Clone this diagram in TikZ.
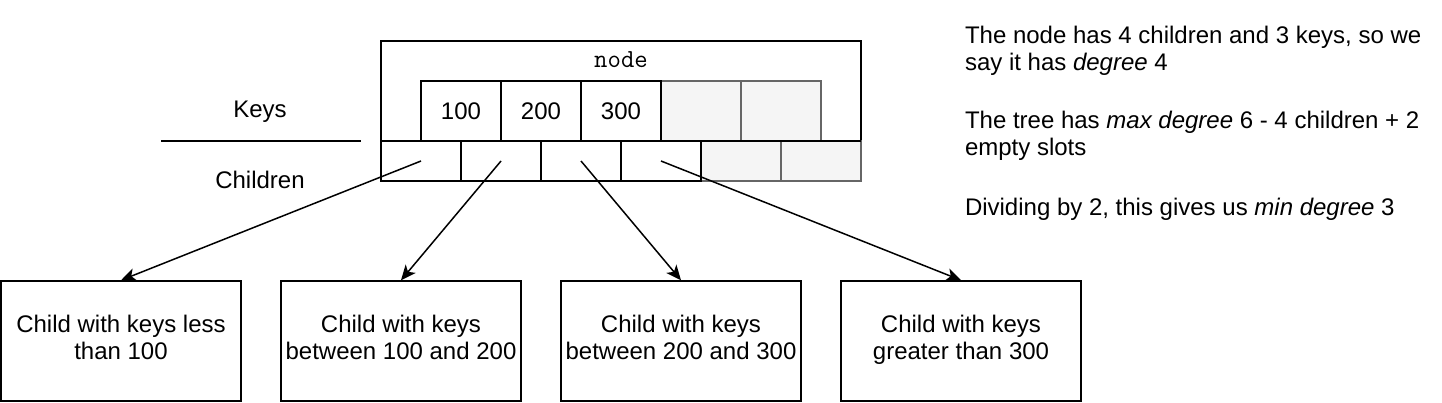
\documentclass[tikz,border=0pt]{standalone}
\usepackage{fontspec}
\setmainfont{Liberation Sans}
\usetikzlibrary{arrows.meta}
\definecolor{emptyfill}{HTML}{F5F5F5}
\definecolor{emptyline}{HTML}{666666}
\begin{document}
\begin{tikzpicture}[x=1pt,y=-1pt,
  font=\fontsize{24}{27}\selectfont,
  cellbox/.style={draw=black, fill=white, line width=1.5pt, inner sep=0pt, outer sep=0pt},
  emptybox/.style={draw=emptyline, fill=emptyfill, line width=1.5pt, inner sep=0pt, outer sep=0pt},
  keycell/.style={minimum width=80pt, minimum height=60pt},
  childcell/.style={minimum width=80pt, minimum height=40pt},
  childbox/.style={draw=black, line width=1.5pt, minimum width=240pt, minimum height=120pt, align=center, inner sep=0pt},
  plain/.style={inner sep=0pt, outer sep=0pt},
  arr/.style={line width=1.5pt, -{Stealth[length=15pt, width=13pt, inset=4pt]}}]
\useasboundingbox (0,0) rectangle (1442,402);
% outer node box
\node[cellbox, minimum width=480pt, minimum height=100pt] (outer) at (621,91) {};
\node[plain, anchor=base] (nodelabel) at (621,67) {\fontsize{26}{28}\ttfamily node};
% key cells
\node[emptybox, keycell] (k4) at (701,111) {};
\node[emptybox, keycell] (k5) at (781,111) {};
\node[cellbox, keycell] (k1) at (461,111) {100};
\node[cellbox, keycell] (k2) at (541,111) {200};
\node[cellbox, keycell] (k3) at (621,111) {300};
% children cells
\node[emptybox, childcell] (c5) at (741,161) {};
\node[emptybox, childcell] (c6) at (821,161) {};
\draw[line width=1.5pt] (c5.north west) -- (c6.north east);
\node[cellbox, childcell] (c1) at (421,161) {};
\node[cellbox, childcell] (c2) at (501,161) {};
\node[cellbox, childcell] (c3) at (581,161) {};
\node[cellbox, childcell] (c4) at (661,161) {};
% labels on the left
\node[plain, anchor=base] (keyslabel) at (260,117) {Keys};
\node[plain, anchor=base] (childrenlabel) at (260,188) {Children};
\coordinate (sepL) at (161,141);
\coordinate (sepR) at (361,141);
\draw[line width=1.5pt] (sepL) -- (sepR);
% child boxes
\node[childbox] (b1) at (121,341) {\strut Child with keys less\\\strut than 100};
\node[childbox] (b2) at (401,341) {\strut Child with keys\\\strut between 100 and 200};
\node[childbox] (b3) at (681,341) {\strut Child with keys\\\strut between 200 and 300};
\node[childbox] (b4) at (961,341) {\strut Child with keys\\\strut greater than 300};
% arrows
\draw[arr] (c1.center) -- (b1.north);
\draw[arr] (c2.center) -- (b2.north);
\draw[arr] (c3.center) -- (b3.north);
\draw[arr] (c4.center) -- (b4.north);
% notes (anchored at the baseline of their last line)
\node[plain, anchor=base west, align=left] (note1) at (965,70) {The node has 4 children and 3 keys, so we\\say it has \textit{degree} 4};
\node[plain, anchor=base west, align=left] (note2) at (965,155) {The tree has \textit{max degree} 6 - 4 children + 2\\empty slots};
\node[plain, anchor=base west, align=left] (note3) at (965,215) {Dividing by 2, this gives us \textit{min degree} 3};
\end{tikzpicture}
\end{document}
